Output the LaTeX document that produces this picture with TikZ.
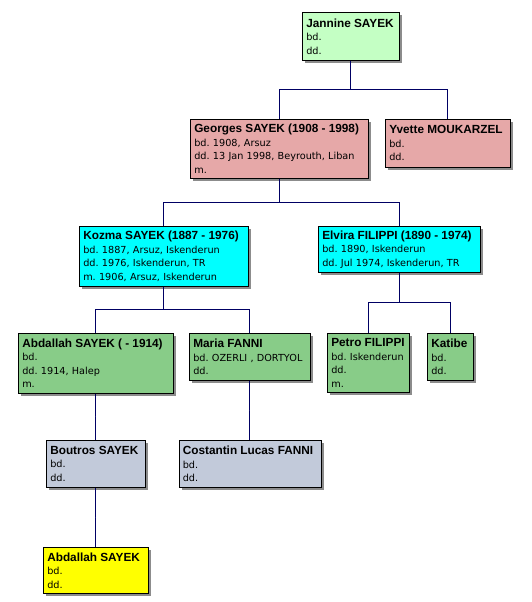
\documentclass[tikz,border=0pt]{standalone}
\usepackage{fontspec}
\setmainfont{DejaVu Sans}
\newfontfamily\titlefont{Liberation Sans}
\usetikzlibrary{calc,shadows}
\frenchspacing

\definecolor{mintbox}{RGB}{196,255,196}
\definecolor{rosebox}{RGB}{230,168,168}
\definecolor{cyanbox}{RGB}{0,255,255}
\definecolor{greenbox}{RGB}{136,204,136}
\definecolor{greybox}{RGB}{194,202,218}
\definecolor{yellowbox}{RGB}{255,255,0}
\definecolor{linknavy}{RGB}{0,0,100}

\newcommand\ptitle[1]{\mbox{\titlefont\bfseries\fontsize{11.8}{13.5}\selectfont #1}}

\tikzset{
  person/.style 2 args={draw=black, line width=0.6pt, anchor=north west, align=left,
    inner xsep=4pt, inner ysep=0pt, text width=#1, minimum height=#2,
    font=\fontsize{9.7}{13.5}\selectfont,
    drop shadow={shadow xshift=3pt, shadow yshift=-3pt, fill=black!45, opacity=1}},
  link/.style={draw=linknavy, line width=0.9pt},
  elbow/.style={to path={|- ($(\tikztostart)!.5!(\tikztotarget)$) -| (\tikztotarget)}}
}

\begin{document}
\begin{tikzpicture}[x=1pt, y=-1pt]
\useasboundingbox (0,0) rectangle (531,602);

% generation 1
\node[person={89pt}{48pt}, fill=mintbox] (jannine) at (302,12) {\ptitle{Jannine SAYEK}\\bd.\\dd.};

% generation 2
\node[person={170pt}{59pt}, fill=rosebox] (georges) at (190,119) {\ptitle{Georges SAYEK (1908 - 1998)}\\bd. 1908, Arsuz\\dd. 13 Jan 1998, Beyrouth, Liban\\m.};
\node[person={117pt}{48pt}, fill=rosebox] (yvette) at (385,119) {\ptitle{Yvette MOUKARZEL}\\bd.\\dd.};

% generation 3
\node[person={161pt}{60pt}, fill=cyanbox] (kozma) at (79,226) {\ptitle{Kozma SAYEK (1887 - 1976)}\\bd. 1887, Arsuz, Iskenderun\\dd. 1976, Iskenderun, TR\\m. 1906, Arsuz, Iskenderun};
\node[person={154pt}{46pt}, fill=cyanbox] (elvira) at (318,226) {\ptitle{Elvira FILIPPI (1890 - 1974)}\\bd. 1890, Iskenderun\\dd. Jul 1974, Iskenderun, TR};

% generation 4
\node[person={147pt}{60pt}, fill=greenbox] (abdallah) at (18,333) {\ptitle{Abdallah SAYEK ( - 1914)}\\bd.\\dd. 1914, Halep\\m.};
\node[person={113pt}{47pt}, fill=greenbox] (maria) at (189,333) {\ptitle{Maria FANNI}\\bd. OZERLI , DORTYOL\\dd.};
\node[person={74pt}{59pt}, fill=greenbox] (petro) at (327,333) {\ptitle{Petro FILIPPI}\\bd. Iskenderun\\dd.\\m.};
\node[person={38pt}{47pt}, fill=greenbox] (katibe) at (427,333) {\ptitle{Katibe}\\bd.\\dd.};

% generation 5
\node[person={91pt}{47pt}, fill=greybox] (boutros) at (46,440) {\ptitle{Boutros SAYEK}\\bd.\\dd.};
\node[person={134pt}{47pt}, fill=greybox] (costantin) at (178.5,440) {\ptitle{Costantin Lucas FANNI}\\bd.\\dd.};

% generation 6
\node[person={97pt}{46pt}, fill=yellowbox] (abdallahjr) at (43,547) {\ptitle{Abdallah SAYEK}\\bd.\\dd.};

% links
\draw[link] (jannine.south) to[elbow] (georges.north);
\draw[link] (jannine.south) to[elbow] (yvette.north);
\draw[link] (georges.south) to[elbow] (kozma.north);
\draw[link] (georges.south) to[elbow] (elvira.north);
\draw[link] (kozma.south) to[elbow] (abdallah.north);
\draw[link] (kozma.south) to[elbow] (maria.north);
\draw[link] (elvira.south) to[elbow] (petro.north);
\draw[link] (elvira.south) to[elbow] (katibe.north);
\draw[link] (abdallah.south) to[elbow] (boutros.north);
\draw[link] (maria.south) to[elbow] (costantin.north);
\draw[link] (boutros.south) to[elbow] (abdallahjr.north);
\end{tikzpicture}
\end{document}
